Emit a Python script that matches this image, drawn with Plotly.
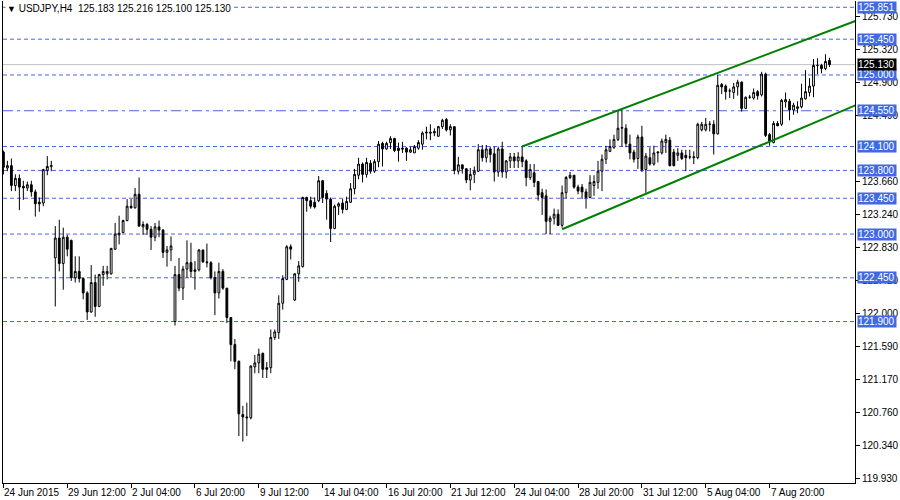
import plotly.graph_objects as go

# USDJPY H4 bars (open, high, low, close)
opens = [124.03, 123.83, 123.86, 123.61, 123.70, 123.60, 123.58, 123.62, 123.53, 123.40,
         123.39, 123.80, 123.85, 122.70, 122.95, 122.63, 122.96, 122.92, 122.45, 122.53,
         122.44, 122.26, 122.02, 122.39, 122.09, 122.49, 122.50, 122.50, 122.81, 122.99,
         123.02, 123.17, 123.35, 123.33, 123.50, 123.09, 123.12, 123.06, 122.96, 123.09,
         123.05, 122.77, 122.80, 121.90, 122.49, 122.32, 122.56, 122.64, 122.53, 122.55,
         122.80, 122.65, 122.64, 122.45, 122.26, 122.53, 122.32, 121.95, 121.61, 121.40,
         120.73, 120.70, 120.69, 121.33, 121.38, 121.50, 121.32, 121.32, 121.70, 121.76,
         122.13, 122.43, 122.84, 122.17, 122.50, 122.59, 123.46, 123.42, 123.40, 123.42,
         123.67, 123.51, 123.44, 123.07, 123.35, 123.39, 123.31, 123.40, 123.57, 123.74,
         123.88, 123.75, 123.89, 123.79, 123.91, 124.14, 124.07, 124.15, 124.20, 124.08,
         124.08, 124.08, 124.03, 124.02, 124.08, 124.13, 124.27, 124.28, 124.27, 124.23,
         124.35, 124.44, 124.31, 124.35, 123.79, 123.87, 123.82, 123.68, 123.75, 123.79,
         124.06, 123.96, 124.07, 124.01, 123.78, 124.07, 123.78, 123.92, 123.97, 123.92,
         123.97, 123.92, 123.71, 123.77, 123.66, 123.52, 123.48, 123.16, 123.20, 123.25,
         123.11, 123.52, 123.71, 123.74, 123.59, 123.59, 123.53, 123.46, 123.61, 123.65,
         123.79, 123.94, 124.04, 124.09, 124.19, 124.33, 124.33, 124.13, 124.03, 123.95,
         124.22, 123.81, 123.96, 123.88, 124.02, 124.02, 124.15, 124.18, 124.03, 123.99,
         124.02, 123.99, 123.97, 123.96, 123.96, 124.31, 124.31, 124.38, 124.38, 124.26,
         124.88, 124.86, 124.80, 124.78, 124.85, 124.91, 124.58, 124.72, 124.71, 124.79,
         124.75, 125.01, 124.25, 124.15, 124.39, 124.38, 124.66, 124.67, 124.56, 124.58,
         124.60, 124.70, 124.78, 124.86, 125.12, 125.12, 125.08, 125.183]
highs = [124.05, 123.92, 123.95, 123.75, 123.75, 123.67, 123.66, 123.67, 123.56, 123.46,
         123.82, 123.98, 123.92, 123.10, 123.18, 123.08, 122.99, 122.93, 122.72, 122.72,
         122.45, 122.28, 122.61, 122.49, 122.50, 122.60, 122.60, 122.82, 123.14, 123.23,
         123.18, 123.44, 123.44, 123.58, 123.71, 123.16, 123.14, 123.10, 123.14, 123.17,
         123.06, 122.85, 122.97, 122.60, 122.70, 122.60, 122.92, 122.89, 122.66, 122.81,
         122.80, 122.88, 122.66, 122.53, 122.64, 122.56, 122.32, 121.95, 121.68, 121.41,
         120.84, 120.88, 121.35, 121.48, 121.56, 121.51, 121.39, 121.80, 121.80, 122.23,
         122.48, 122.86, 122.87, 122.51, 122.66, 123.47, 123.47, 123.47, 123.46, 123.73,
         123.68, 123.55, 123.46, 123.37, 123.40, 123.44, 123.47, 123.64, 123.82, 123.96,
         123.90, 123.96, 123.93, 123.94, 124.17, 124.16, 124.16, 124.23, 124.21, 124.15,
         124.16, 124.09, 124.10, 124.12, 124.18, 124.29, 124.35, 124.38, 124.33, 124.36,
         124.45, 124.46, 124.38, 124.35, 123.97, 123.87, 123.83, 123.83, 123.85, 124.13,
         124.12, 124.12, 124.10, 124.10, 124.10, 124.16, 123.93, 124.02, 124.02, 124.03,
         124.11, 123.94, 123.88, 123.88, 123.67, 123.57, 123.56, 123.23, 123.32, 123.31,
         123.61, 123.73, 123.78, 123.74, 123.62, 123.63, 123.57, 123.74, 123.74, 123.92,
         124.00, 124.11, 124.19, 124.25, 124.56, 124.58, 124.38, 124.25, 124.06, 124.25,
         124.36, 124.02, 124.09, 124.11, 124.04, 124.20, 124.25, 124.22, 124.07, 124.08,
         124.06, 124.06, 124.06, 124.04, 124.40, 124.41, 124.46, 124.42, 124.43, 125.00,
         124.90, 124.88, 124.83, 124.90, 124.94, 124.92, 124.73, 124.75, 124.83, 124.81,
         125.04, 125.03, 124.27, 124.42, 124.42, 124.70, 124.78, 124.70, 124.65, 124.67,
         124.89, 125.06, 124.96, 125.20, 125.21, 125.14, 125.26, 125.216]
lows = [123.75, 123.79, 123.54, 123.54, 123.30, 123.43, 123.54, 123.47, 123.22, 123.28,
        123.35, 123.74, 123.79, 122.09, 122.53, 122.30, 122.72, 122.41, 122.39, 122.39,
        122.18, 121.92, 122.01, 121.96, 122.08, 122.35, 122.43, 122.49, 122.80, 122.87,
        123.01, 123.16, 123.32, 123.32, 123.09, 122.99, 122.99, 122.80, 122.91, 122.96,
        122.70, 122.59, 122.66, 121.85, 122.28, 122.17, 122.45, 122.45, 122.30, 122.53,
        122.64, 122.58, 122.43, 121.98, 122.19, 122.30, 121.88, 121.40, 121.30, 120.46,
        120.39, 120.46, 120.67, 121.25, 121.25, 121.19, 121.19, 121.25, 121.67, 121.68,
        122.05, 122.42, 122.68, 122.16, 122.40, 122.58, 123.28, 123.32, 123.32, 123.40,
        123.39, 123.18, 122.90, 123.06, 123.24, 123.26, 123.30, 123.39, 123.50, 123.69,
        123.65, 123.71, 123.76, 123.77, 123.84, 123.85, 124.06, 124.07, 124.03, 123.91,
        124.02, 123.92, 124.02, 124.02, 124.06, 124.06, 124.19, 124.18, 124.23, 124.22,
        124.32, 124.29, 124.24, 123.75, 123.75, 123.76, 123.64, 123.55, 123.64, 123.78,
        123.91, 123.90, 123.90, 123.66, 123.72, 123.71, 123.70, 123.83, 123.83, 123.83,
        123.84, 123.60, 123.68, 123.59, 123.42, 123.24, 123.00, 123.00, 123.12, 123.10,
        123.08, 123.45, 123.69, 123.57, 123.50, 123.44, 123.32, 123.45, 123.48, 123.57,
        123.54, 123.88, 124.03, 124.07, 124.17, 124.10, 124.09, 123.94, 123.90, 123.82,
        123.78, 123.52, 123.86, 123.86, 123.90, 124.00, 124.02, 123.85, 123.85, 123.92,
        123.93, 123.79, 123.94, 123.88, 123.94, 124.29, 124.29, 124.29, 124.00, 124.25,
        124.76, 124.69, 124.71, 124.70, 124.74, 124.54, 124.57, 124.70, 124.69, 124.69,
        124.73, 124.22, 124.11, 124.14, 124.36, 124.36, 124.59, 124.43, 124.50, 124.52,
        124.58, 124.69, 124.73, 124.72, 125.01, 125.02, 125.06, 125.100]
closes = [123.84, 123.86, 123.61, 123.70, 123.59, 123.58, 123.62, 123.53, 123.38, 123.38,
          123.81, 123.85, 123.86, 122.95, 122.63, 122.96, 122.81, 122.45, 122.53, 122.44,
          122.26, 122.02, 122.39, 122.09, 122.49, 122.53, 122.53, 122.82, 123.00, 123.01,
          123.17, 123.35, 123.33, 123.50, 123.10, 123.12, 123.06, 122.96, 123.09, 123.05,
          122.77, 122.80, 122.85, 122.49, 122.32, 122.56, 122.64, 122.53, 122.55, 122.80,
          122.65, 122.64, 122.45, 122.26, 122.53, 122.32, 121.95, 121.61, 121.40, 120.74,
          120.70, 120.69, 121.34, 121.38, 121.49, 121.30, 121.30, 121.70, 121.77, 122.13,
          122.44, 122.84, 122.81, 122.50, 122.60, 123.46, 123.42, 123.35, 123.34, 123.67,
          123.46, 123.44, 123.07, 123.35, 123.38, 123.31, 123.41, 123.57, 123.75, 123.88,
          123.75, 123.90, 123.79, 123.91, 124.13, 124.07, 124.14, 124.20, 124.05, 124.05,
          124.07, 124.03, 124.06, 124.10, 124.15, 124.27, 124.28, 124.27, 124.29, 124.35,
          124.43, 124.31, 124.35, 123.80, 123.87, 123.82, 123.68, 123.75, 123.79, 124.06,
          123.96, 124.07, 124.00, 123.78, 124.07, 123.78, 123.92, 123.97, 123.92, 123.97,
          123.91, 123.71, 123.81, 123.65, 123.49, 123.46, 123.16, 123.20, 123.25, 123.11,
          123.52, 123.71, 123.74, 123.59, 123.54, 123.53, 123.46, 123.65, 123.66, 123.79,
          123.94, 124.06, 124.10, 124.19, 124.33, 124.34, 124.14, 124.02, 123.94, 124.22,
          123.81, 123.98, 123.88, 124.02, 124.03, 124.17, 124.19, 123.86, 123.86, 124.02,
          123.95, 123.96, 123.97, 123.97, 124.38, 124.38, 124.38, 124.38, 124.26, 124.87,
          124.85, 124.79, 124.80, 124.85, 124.91, 124.58, 124.72, 124.72, 124.78, 124.74,
          125.01, 124.24, 124.17, 124.39, 124.36, 124.68, 124.69, 124.56, 124.62, 124.60,
          124.71, 124.79, 124.86, 125.12, 125.12, 125.08, 125.17, 125.130]

bars = list(range(len(opens)))

date_labels = ["24 Jun 2015", "29 Jun 12:00", "2 Jul 04:00", "6 Jul 20:00", "9 Jul 12:00",
               "14 Jul 04:00", "16 Jul 20:00", "21 Jul 12:00", "24 Jul 04:00", "28 Jul 20:00",
               "31 Jul 12:00", "5 Aug 04:00", "7 Aug 20:00"]
date_bars = [0, 16, 32, 48, 64, 80, 96, 112, 128, 144, 160, 176, 192]

# 124.070 sits fully under the 124.100 level box, so it is left out
price_ticks = [125.730, 125.320, 124.900, 124.490, 123.660, 123.240, 122.830,
               122.420, 122.000, 121.590, 121.170, 120.760, 120.340, 119.930]

levels = [125.851, 125.450, 125.000, 124.550, 124.100, 123.800, 123.450, 123.000, 122.450, 121.900]
last_price = 125.130

# channel: start bar, start price, slope per bar
upper_channel = (130, 124.10, 0.0189)
lower_channel = (140, 123.06, 0.0212)

BLUE = "#4169E1"
FONT = "Liberation Sans"

fig = go.Figure()

fig.add_trace(go.Candlestick(
    x=bars, open=opens, high=highs, low=lows, close=closes,
    increasing=dict(line=dict(color="black", width=1), fillcolor="white"),
    decreasing=dict(line=dict(color="black", width=1), fillcolor="black"),
    whiskerwidth=0, showlegend=False, hoverinfo="skip"))

end_bar = 216
for start, p0, slope in [upper_channel, lower_channel]:
    fig.add_trace(go.Scatter(
        x=[start, end_bar], y=[p0, p0 + slope * (end_bar - start)],
        mode="lines", line=dict(color="#008000", width=2),
        showlegend=False, hoverinfo="skip"))

shapes = []
annotations = []
for lv in levels:
    dash = "10px,4px,3px,4px" if lv == 124.550 else "4px,3px"
    shapes.append(dict(type="line", xref="paper", x0=0, x1=1, yref="y", y0=lv, y1=lv,
                       line=dict(color=BLUE, width=1, dash=dash), layer="below"))
    annotations.append(dict(xref="paper", x=1, xanchor="left", xshift=2, yref="y", y=lv,
                            text="%.3f" % lv, showarrow=False, bgcolor=BLUE, borderpad=0,
                            width=38, align="left",
                            font=dict(family=FONT, size=10, color="white")))

shapes.append(dict(type="line", xref="paper", x0=0, x1=1, yref="y", y0=last_price, y1=last_price,
                   line=dict(color="#C0C0C0", width=1), layer="below"))
annotations.append(dict(xref="paper", x=1, xanchor="left", xshift=2, yref="y", y=last_price,
                        text="%.3f" % last_price, showarrow=False, bgcolor="black", borderpad=0,
                        width=38, align="left",
                        font=dict(family=FONT, size=10, color="white")))

for b, lab in zip(date_bars, date_labels):
    annotations.append(dict(xref="x", x=b, yref="paper", y=0, xanchor="left", yanchor="top",
                            xshift=-1, yshift=-2, text=lab, showarrow=False,
                            font=dict(family=FONT, size=10, color="black")))

annotations.append(dict(xref="paper", x=0, yref="paper", y=1, xanchor="left", yanchor="top",
                        xshift=2, yshift=0, showarrow=False, bgcolor="white",
                        text="<span style='font-size:9px'>▼</span> USDJPY,H4  "
                             "%.3f %.3f %.3f %.3f" % (opens[-1], highs[-1], lows[-1], closes[-1]),
                        font=dict(family=FONT, size=10, color="black")))

fig.update_layout(
    width=900, height=500,
    margin=dict(l=3, r=43, t=1, b=17),
    paper_bgcolor="white", plot_bgcolor="white",
    boxgap=0.35,
    shapes=shapes, annotations=annotations,
    xaxis=dict(range=[-0.1, 213.4], tickvals=date_bars, showticklabels=False,
               ticks="outside", ticklen=4, tickcolor="black",
               showline=True, linecolor="black", linewidth=1,
               showgrid=False, zeroline=False, rangeslider=dict(visible=False)),
    yaxis=dict(range=[119.87, 125.93], side="right", tickvals=price_ticks,
               ticktext=["%.3f" % t for t in price_ticks],
               ticks="outside", ticklen=4, tickcolor="black",
               tickfont=dict(family=FONT, size=10, color="black"),
               showline=True, mirror=True, linecolor="black", linewidth=1,
               showgrid=False, zeroline=False),
)

# the page has an 8px body margin by default; drop it so the chart sits at 0,0
fig.write_html("out.html", config={"displayModeBar": False},
               post_script="document.body.style.margin='0';")
